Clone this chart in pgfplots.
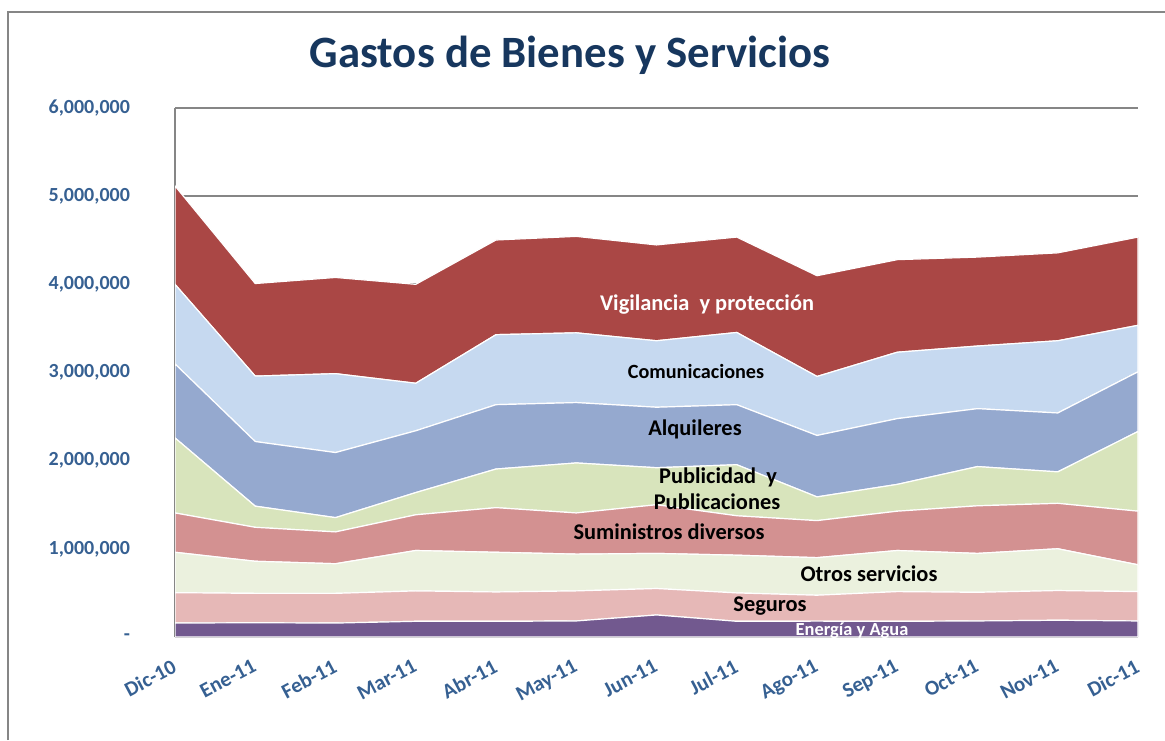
\documentclass[border=0pt]{standalone}
\usepackage{pgfplots}
\pgfplotsset{compat=1.18}
\usepackage{pgfplotstable}
\usepackage{fontspec}
\setmainfont{Carlito}
\definecolor{cVig}{RGB}{170,71,69}
\definecolor{cCom}{RGB}{198,217,240}
\definecolor{cAlq}{RGB}{149,169,207}
\definecolor{cPub}{RGB}{216,228,188}
\definecolor{cSum}{RGB}{211,145,145}
\definecolor{cOtr}{RGB}{235,241,222}
\definecolor{cSeg}{RGB}{230,184,183}
\definecolor{cEne}{RGB}{114,89,143}
\definecolor{cTitle}{RGB}{23,55,94}
\definecolor{cTick}{RGB}{54,96,146}
\definecolor{cGrid}{RGB}{134,134,134}

\pgfplotstableread{
x  ene    seg    otr    sum    pub    alq    com    vig
0  158000 345000 458000 446000 851000 839000 903000 1116000
1  162000 333000 364000 385000 240000 733000 742000 1050000
2  158000 337000 336000 361000 162000 738000 895000 1091000
3  178000 345000 458000 405000 252000 701000 539000 1122000
4  178000 333000 450000 506000 438000 730000 794000 1074000
5  182000 341000 417000 467000 567000 685000 791000 1094000
6  250000 300000 398000 552000 420000 686000 754000 1087000
7  178000 322000 428000 447000 579000 681000 819000 1082000
8  180000 294000 426000 420000 269000 697000 669000 1143000
9  178000 337000 466000 446000 304000 746000 753000 1050000
10 182000 325000 441000 540000 445000 657000 710000 1009000
11 190000 337000 474000 515000 357000 668000 819000 997000
12 182000 333000 304000 608000 904000 677000 527000 1001000
}\datatable

\tikzset{lbl/.style={font=\fontsize{11.2}{13}\selectfont\bfseries, inner sep=0pt}}

\begin{document}
\begin{tikzpicture}
\useasboundingbox (0,0) rectangle (582.5pt,370pt);
\draw[cGrid, line width=0.75pt] (4pt,0) -- (4pt,364pt) -- (582.5pt,364pt);
\node[font=\fontsize{22.4}{26}\selectfont\bfseries, text=cTitle] at (285pt,342.5pt) {Gastos de Bienes y Servicios};
\begin{axis}[
  at={(87.5pt,51.5pt)}, anchor=south west,
  scale only axis, width=481.5pt, height=264.5pt,
  xmin=0, xmax=12, ymin=0, ymax=6000000,
  stack plots=y,
  axis x line=bottom, axis y line=left,
  x axis line style={cGrid, line width=1pt, -},
  y axis line style={cGrid, line width=1pt, -},
  major tick length=0pt,
  ymajorgrids, grid style={cGrid, line width=1pt},
  ytick={0,1000000,2000000,3000000,4000000,5000000,6000000},
  yticklabels={-,{1,000,000},{2,000,000},{3,000,000},{4,000,000},{5,000,000},{6,000,000}},
  scaled y ticks=false,
  yticklabel style={font=\fontsize{10}{12}\selectfont\bfseries, text=cTick, anchor=east, xshift=-19pt},
  xtick={0,...,12},
  xticklabels={Dic-10,Ene-11,Feb-11,Mar-11,Abr-11,May-11,Jun-11,Jul-11,Ago-11,Sep-11,Oct-11,Nov-11,Dic-11},
  xticklabel style={font=\fontsize{10.5}{12}\selectfont\bfseries, text=cTick, xshift=-2pt, rotate=28, anchor=north east, inner sep=0pt},
  xticklabel shift=10.5pt,
]
\addplot[fill=cEne, draw=white, line width=0.6pt] table[x=x,y=ene]{\datatable} \closedcycle;
\addplot[fill=cSeg, draw=white, line width=0.6pt] table[x=x,y=seg]{\datatable} \closedcycle;
\addplot[fill=cOtr, draw=white, line width=0.6pt] table[x=x,y=otr]{\datatable} \closedcycle;
\addplot[fill=cSum, draw=white, line width=0.6pt] table[x=x,y=sum]{\datatable} \closedcycle;
\addplot[fill=cPub, draw=white, line width=0.6pt] table[x=x,y=pub]{\datatable} \closedcycle;
\addplot[fill=cAlq, draw=white, line width=0.6pt] table[x=x,y=alq]{\datatable} \closedcycle;
\addplot[fill=cCom, draw=white, line width=0.6pt] table[x=x,y=com]{\datatable} \closedcycle;
\addplot[fill=cVig, draw=white, line width=0.6pt] table[x=x,y=vig]{\datatable} \closedcycle;
\end{axis}
\node[lbl, text=white] at (353.5pt,217.5pt) {Vigilancia\ \ y protección};
\node[lbl, font=\fontsize{10.1}{12}\selectfont\bfseries] at (348pt,184.5pt) {Comunicaciones};
\node[lbl] at (347.5pt,155.5pt) {Alquileres};
\node[lbl] at (359pt,131.5pt) {Publicidad\ \ y};
\node[lbl] at (358.5pt,119pt) {Publicaciones};
\node[lbl] at (334.5pt,104pt) {Suministros diversos};
\node[lbl] at (434.5pt,83pt) {Otros servicios};
\node[lbl] at (385pt,67pt) {Seguros};
\node[lbl, text=white, font=\fontsize{9.2}{11}\selectfont\bfseries] at (426pt,54.5pt) {Energía y Agua};
\end{tikzpicture}
\end{document}
